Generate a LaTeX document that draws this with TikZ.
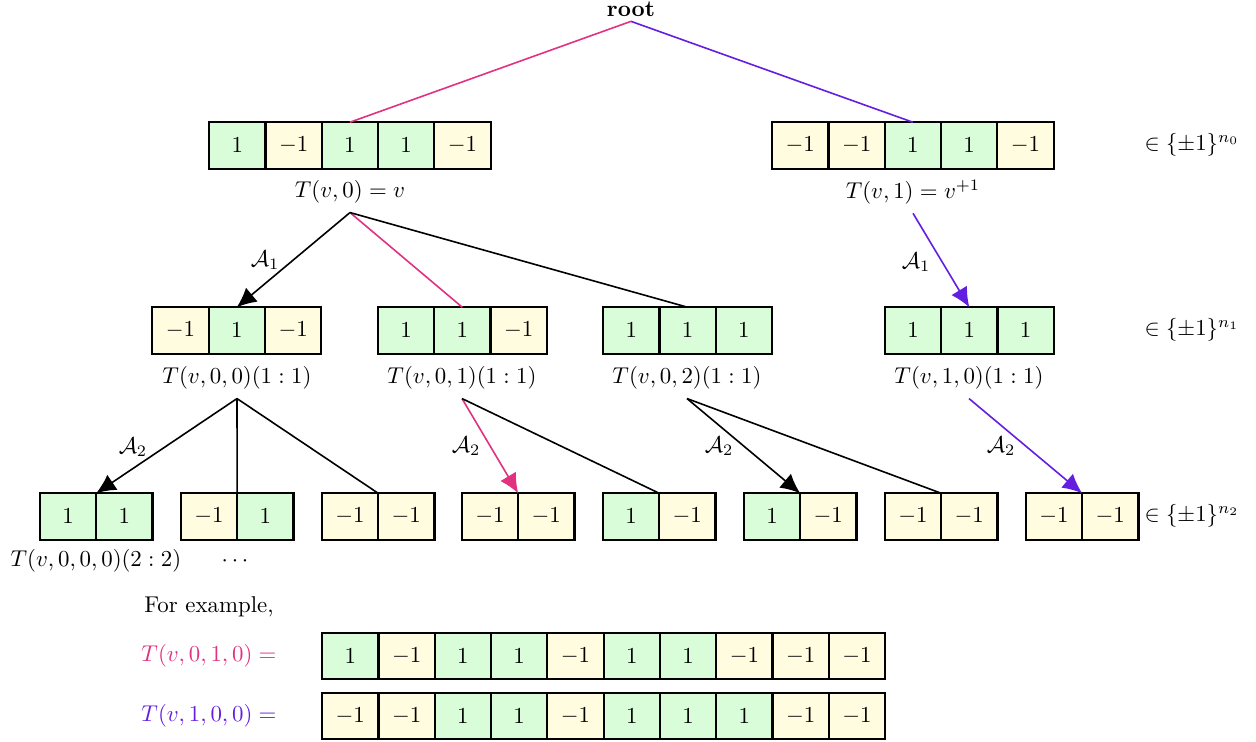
\documentclass[tikz,border=0pt]{standalone}
\usetikzlibrary{arrows.meta}
\definecolor{cg}{RGB}{217,252,217}
\definecolor{cy}{RGB}{255,252,224}
\definecolor{pinkc}{RGB}{224,50,128}
\definecolor{purp}{RGB}{100,30,224}
\newcommand\cellrow[4]{%
  \foreach \v [count=\i] in {#4} {%
    \ifnum\v<0 \def\cfill{cy}\else\def\cfill{cg}\fi
    \node[cell, fill=\cfill] (#1-\i) at ({#2+(\i-1)*56.3},#3) {$\v$};
  }
  \foreach \v [count=\i] in {#4} {%
    \draw[cellborder] (#1-\i.south west) rectangle (#1-\i.north east);
  }}
\tikzset{
  cell/.style={minimum width={56.3*0.01538cm}, minimum height={46.5*0.01538cm}, inner sep=0pt, outer sep=0pt},
  cellborder/.style={line width=0.95pt},
  lab/.style={inner sep=2pt, outer sep=2pt},
  conn/.style={line width=0.7pt},
  arr/.style={-{Latex[length=3mm,width=2.8mm]}},
}
\begin{document}
\begin{tikzpicture}[x=0.01538cm, y=-0.01538cm]
\useasboundingbox (0,0) rectangle (1256,742);
\node[font=\bfseries, inner sep=2pt] (root) at (631,9) {root};
% level 0
\cellrow{L0}{237.3}{145.5}{1,-1,1,1,-1}
\cellrow{R0}{800.3}{145.5}{-1,-1,1,1,-1}
\node[lab] (lab0) at (350,192) {$T(v,0)=v$};
\node[lab] (lab1) at (913,192) {$T(v,1)=v^{+1}$};
\node (set0) at (1192,145) {$\in\{\pm1\}^{n_0}$};
% level 1
\cellrow{A}{180.5}{330.5}{-1,1,-1}
\cellrow{B}{406}{330.5}{1,1,-1}
\cellrow{C}{631.3}{330.5}{1,1,1}
\cellrow{D}{913}{330.5}{1,1,1}
\node[lab] (labA) at (237,378) {$T(v,0,0)(1:1)$};
\node[lab] (labB) at (462,378) {$T(v,0,1)(1:1)$};
\node[lab] (labC) at (687,378) {$T(v,0,2)(1:1)$};
\node[lab] (labD) at (969,378) {$T(v,1,0)(1:1)$};
\node (set1) at (1192,330) {$\in\{\pm1\}^{n_1}$};
% level 2
\cellrow{E1}{68}{516.5}{1,1}
\cellrow{E2}{209}{516.5}{-1,1}
\cellrow{E3}{350}{516.5}{-1,-1}
\cellrow{E4}{490}{516.5}{-1,-1}
\cellrow{E5}{631}{516.5}{1,-1}
\cellrow{E6}{772}{516.5}{1,-1}
\cellrow{E7}{913}{516.5}{-1,-1}
\cellrow{E8}{1054}{516.5}{-1,-1}
\node (set2) at (1192,516) {$\in\{\pm1\}^{n_2}$};
\node (labE) at (96,561) {$T(v,0,0,0)(2:2)$};
\node (dots) at (235,561) {$\cdots$};
% level 0 edges
\draw[conn, pinkc] (root.south) -- (L0-3.north);
\draw[conn, purp] (root.south) -- (R0-3.north);
% level 1 edges
\draw[conn, arr] (lab0.south) -- (A-2.north);
\draw[conn, pinkc] (lab0.south) -- (B-2.north);
\draw[conn] (lab0.south) -- (C-2.north);
\draw[conn, arr, purp] (lab1.south) -- (D-2.north);
\node (a1l) at (265,260) {$\mathcal{A}_1$};
\node (a1r) at (916,262) {$\mathcal{A}_1$};
% level 2 edges
\draw[conn, arr] (labA.south) -- (E1-1.north east);
\draw[conn] (labA.south) -- (E2-1.north east);
\draw[conn] (labA.south) -- (E3-1.north east);
\draw[conn, arr, pinkc] (labB.south) -- (E4-1.north east);
\draw[conn] (labB.south) -- (E5-1.north east);
\draw[conn, arr] (labC.south) -- (E6-1.north east);
\draw[conn] (labC.south) -- (E7-1.north east);
\draw[conn, arr, purp] (labD.south) -- (E8-1.north east);
\node (a2a) at (133,447) {$\mathcal{A}_2$};
\node (a2b) at (466,446) {$\mathcal{A}_2$};
\node (a2c) at (719,446) {$\mathcal{A}_2$};
\node (a2d) at (1001,446) {$\mathcal{A}_2$};
% examples
\node (fe) at (209,607) {For example,};
\node[text=pinkc] (ex1) at (209,656) {$T(v,0,1,0)=$};
\node[text=purp] (ex2) at (209,716) {$T(v,1,0,0)=$};
\cellrow{X}{350.3}{656}{1,-1,1,1,-1,1,1,-1,-1,-1}
\cellrow{Y}{350.3}{716}{-1,-1,1,1,-1,1,1,1,-1,-1}
\end{tikzpicture}
\end{document}
